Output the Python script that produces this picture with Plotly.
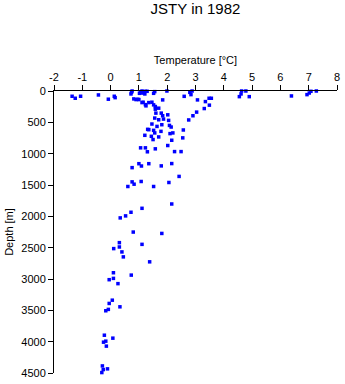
import plotly.graph_objects as go

# Temperature [°C] and depth [m]
temperature = [
    -1.36, -1.25, -1.06, -0.43, -0.08, 0.13, 0.16, 0.74, 0.72, 0.76,
    0.82, 0.90, 1.00, 1.05, 1.11, 1.11, 1.02, 1.21, 1.29, 1.52,
    1.56, 1.99, 1.15, 1.23, 1.11, 1.35, 1.46, 1.25, 1.52, 1.58,
    1.58, 1.70, 1.84, 2.60, 2.80, 2.84, 2.88, 3.07, 3.35, 3.56,
    3.48, 3.49, 3.31, 3.04, 2.91, 2.76, 2.57, 2.55, 4.63, 4.78,
    4.61, 4.55, 4.90, 6.39, 6.94, 7.02, 7.08, 7.27, 1.17, 1.23,
    0.96, 1.60, 1.79, 1.84, 2.02, 1.56, 1.70, 1.87, 2.05, 1.46,
    1.64, 1.81, 2.08, 2.14, 1.35, 1.52, 1.56, 1.78, 2.10, 2.20,
    1.21, 1.44, 1.50, 1.70, 2.16, 2.02, 1.06, 1.23, 1.30, 1.58,
    2.26, 2.49, 1.31, 1.00, 1.09, 1.35, 1.79, 2.16, 0.76, 2.42,
    0.76, 0.83, 0.61, 1.08, 1.52, 2.06, 2.16, 1.11, 0.72, 0.53,
    0.34, 0.80, 1.81, 0.31, 0.31, 0.11, 0.40, 1.11, 0.45, 1.38,
    0.10, 0.73, 0.10, -0.05, 0.26, 0.06, -0.05, 0.33, -0.08, -0.17,
    -0.22, -0.17, -0.25, 0.08, -0.15, -0.29, -0.26, -0.11, -0.31,
]
depth = [
    84, 116, 84, 63, 131, 84, 106, 21, 47, 0,
    126, 137, 137, 16, 0, 32, 37, 47, 5, 37,
    10, 0, 179, 217, 185, 185, 179, 237, 221, 248,
    290, 274, 142, 85, 21, 58, 0, 142, 169, 116,
    116, 226, 280, 337, 395, 462, 622, 748, 0, 0,
    47, 90, 90, 79, 58, 32, 5, 0, 25, 5,
    132, 353, 353, 395, 380, 432, 459, 448, 469, 527,
    565, 538, 549, 575, 617, 628, 669, 644, 680, 669,
    707, 723, 775, 733, 786, 870, 907, 907, 970, 923,
    967, 967, 612, 1160, 1197, 1160, 1195, 1158, 1223, 1363,
    1450, 1487, 1524, 1444, 1524, 1460, 1803, 1872, 1935, 1993,
    2025, 2251, 2273, 2420, 2489, 2515, 2568, 2447, 2647, 2726,
    2900, 2938, 2990, 3011, 3074, 3338, 3390, 3444, 3485, 3507,
    3897, 3992, 4008, 3944, 4071, 4387, 4445, 4434, 4493,
]

x_ticks = [-2, -1, 0, 1, 2, 3, 4, 5, 6, 7, 8]
y_ticks = [0, 500, 1000, 1500, 2000, 2500, 3000, 3500, 4000, 4500]

FONT = "Liberation Sans, Arial, sans-serif"

fig = go.Figure()
fig.add_trace(go.Scatter(
    x=temperature, y=depth, mode="markers",
    marker=dict(symbol="square", size=3.5, color="#0000ff", line=dict(width=0)),
    cliponaxis=False, showlegend=False,
))

fig.update_layout(
    width=345, height=384,
    margin=dict(l=54, r=5, t=91, b=9),
    paper_bgcolor="white", plot_bgcolor="white",
    font=dict(family=FONT, size=11, color="black"),
    title=dict(text="JSTY in 1982", x=0.5, xref="paper", xanchor="center",
               y=1 - 9 / 384, yref="container", yanchor="middle",
               font=dict(family=FONT, size=15, color="black")),
    xaxis=dict(
        side="top", range=[-2, 8], tickvals=x_ticks, ticktext=[str(v) for v in x_ticks],
        showline=True, linecolor="black", linewidth=1, mirror=False,
        ticks="outside", ticklen=5, tickcolor="black", tickwidth=1,
        showgrid=False, zeroline=False,
        title=dict(text="Temperature [°C]", standoff=3, font=dict(size=11)),
        tickfont=dict(size=11),
    ),
    yaxis=dict(
        range=[4500, 0], tickvals=y_ticks, ticktext=[str(v) for v in y_ticks],
        showline=True, linecolor="black", linewidth=1, mirror=False,
        ticks="outside", ticklen=5, tickcolor="black", tickwidth=1,
        showgrid=False, zeroline=False,
        title=dict(text="Depth [m]", standoff=5, font=dict(size=11)),
        tickfont=dict(size=11),
    ),
)

fig.write_html("out.html")
